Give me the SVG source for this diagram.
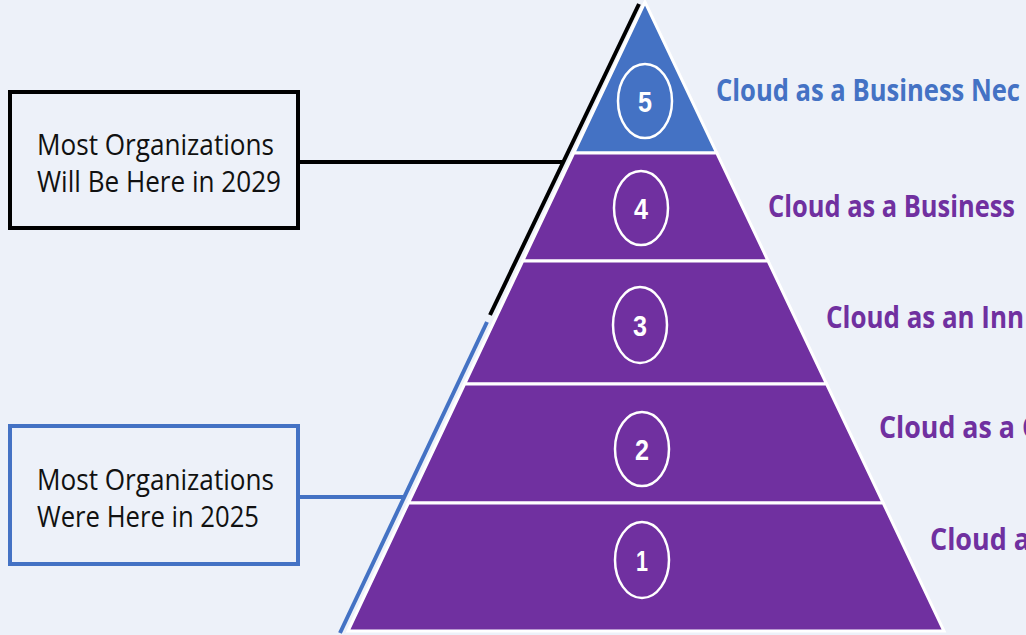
<svg xmlns="http://www.w3.org/2000/svg" width="1026" height="635" viewBox="0 0 1026 635">
<style>
.tier{fill:#7030A0;stroke:#FFFFFF;stroke-width:3;stroke-linejoin:miter}
.top{fill:#4472C4}
.num{fill:none;stroke:#FFFFFF;stroke-width:2.5}
.numt{font-family:"Liberation Sans",Arial,sans-serif;font-weight:bold;font-size:30px;fill:#FFFFFF;text-anchor:middle}
.box{fill:none;stroke-width:4}
.bt{font-family:"Open Sans","Noto Sans",sans-serif;font-size:29px;fill:#111111}
.lab{font-family:"Open Sans","Noto Sans",sans-serif;font-weight:bold;font-size:30px;fill:#7030A0}
</style>
<rect width="1026" height="635" fill="#EDF1F9"/>
<g id="connectors" fill="none" stroke-width="4">
  <line x1="639" y1="4" x2="490" y2="315" stroke="#000000"/>
  <line x1="300" y1="162" x2="563" y2="162" stroke="#000000"/>
  <line x1="487" y1="322" x2="340" y2="633" stroke="#4472C4"/>
  <line x1="300" y1="497" x2="404" y2="497" stroke="#4472C4"/>
</g>
<g id="tier5">
  <polygon class="tier top" points="645,2 573.7,153 716.8,153"/>
  <ellipse class="num" cx="645" cy="101" rx="27" ry="37"/>
  <text class="numt" x="645" y="112" textLength="14" lengthAdjust="spacingAndGlyphs">5</text>
  <text class="lab" x="716" y="101" style="fill:#4472C4" textLength="304" lengthAdjust="spacingAndGlyphs">Cloud as a Business Nec</text>
</g>
<g id="tier4">
  <polygon class="tier" points="573.7,153 716.8,153 768.1,261 522.7,261"/>
  <ellipse class="num" cx="641" cy="208" rx="27" ry="37"/>
  <text class="numt" x="641" y="219" textLength="14" lengthAdjust="spacingAndGlyphs">4</text>
  <text class="lab" x="768" y="217" textLength="247" lengthAdjust="spacingAndGlyphs">Cloud as a Business</text>
</g>
<g id="tier3">
  <polygon class="tier" points="522.7,261 768.1,261 826.6,384 464.6,384"/>
  <ellipse class="num" cx="640" cy="325" rx="27" ry="38"/>
  <text class="numt" x="640" y="336" textLength="14" lengthAdjust="spacingAndGlyphs">3</text>
  <text class="lab" x="826" y="328" textLength="198" lengthAdjust="spacingAndGlyphs">Cloud as an Inn</text>
</g>
<g id="tier2">
  <polygon class="tier" points="464.6,384 826.6,384 883.2,503 408.4,503"/>
  <ellipse class="num" cx="642" cy="449" rx="27" ry="37"/>
  <text class="numt" x="642" y="460" textLength="14" lengthAdjust="spacingAndGlyphs">2</text>
  <text class="lab" x="879" y="438" textLength="160" lengthAdjust="spacingAndGlyphs">Cloud as a C</text>
</g>
<g id="tier1">
  <polygon class="tier" points="408.4,503 883.2,503 944,631 348,631"/>
  <ellipse class="num" cx="642" cy="560" rx="27" ry="38"/>
  <text class="numt" x="642" y="571" textLength="12" lengthAdjust="spacingAndGlyphs">1</text>
  <text class="lab" x="930" y="550" textLength="100" lengthAdjust="spacingAndGlyphs">Cloud a</text>
</g>
<g id="box2029">
  <rect class="box" x="10" y="92" width="288" height="136" stroke="#000000"/>
  <text class="bt" x="37" y="155" textLength="237" lengthAdjust="spacingAndGlyphs">Most Organizations</text>
  <text class="bt" x="37" y="192" textLength="244" lengthAdjust="spacingAndGlyphs">Will Be Here in 2029</text>
</g>
<g id="box2025">
  <rect class="box" x="10" y="426" width="288" height="138" stroke="#4472C4"/>
  <text class="bt" x="37" y="490" textLength="237" lengthAdjust="spacingAndGlyphs">Most Organizations</text>
  <text class="bt" x="37" y="527" textLength="222" lengthAdjust="spacingAndGlyphs">Were Here in 2025</text>
</g>
</svg>
